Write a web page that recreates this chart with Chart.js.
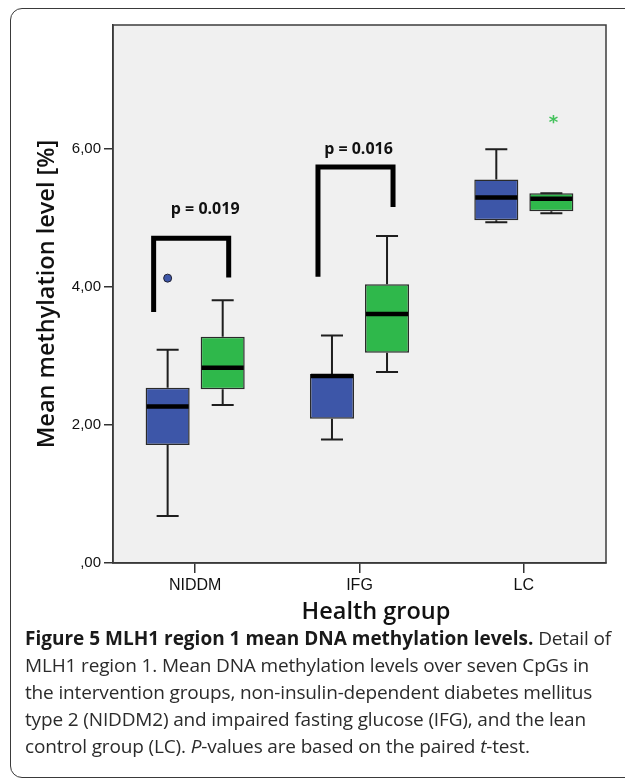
<!DOCTYPE html>
<html>
<head>
<meta charset="utf-8">
<script src="https://cdn.jsdelivr.net/npm/chart.js@4/dist/chart.umd.min.js"></script>
<style>
  html, body { margin: 0; padding: 0; background: #fff; }
  body { width: 625px; height: 780px; position: relative; overflow: hidden; }
  #frame {
    position: absolute; left: 10px; top: 8px; width: 680px; height: 768px;
    border: 1.5px solid #3a3a3a; border-radius: 12px;
  }
  #chart { position: absolute; left: 0; top: 0; }
  #xtitle {
    position: absolute; left: 376px; top: 594px; transform: translateX(-50%);
    font-family: "Open Sans", sans-serif; font-weight: 600; font-size: 23.5px;
    color: #111; white-space: nowrap;
  }
  #caption {
    position: absolute; left: 25px; top: 625px;
    font-family: "Open Sans", sans-serif; font-size: 19px; line-height: 27px;
    color: #2b2b2b; white-space: nowrap; letter-spacing: -0.15px;
  }
  #caption b { font-weight: 700; color: #1a1a1a; letter-spacing: 0; }
</style>
</head>
<body>
<div id="frame"></div>
<canvas id="chart" width="625" height="600"></canvas>
<div id="xtitle">Health group</div>
<div id="caption">
  <b>Figure 5 MLH1 region 1 mean DNA methylation levels.</b> Detail of<br>
  MLH1 region 1. Mean DNA methylation levels over seven CpGs in<br>
  the intervention groups, non-insulin-dependent diabetes mellitus<br>
  type 2 (NIDDM2) and impaired fasting glucose (IFG), and the lean<br>
  control group (LC). <i>P</i>-values are based on the paired <i>t</i>-test.
</div>
<script>
// Health groups on the x axis
const groups = ["NIDDM", "IFG", "LC"];

// Blue boxes (five-number summary per group)
const blueLow = [0.68, 1.79, 4.94];
const blueQ1 = [1.71, 2.09, 4.97];
const blueMedian = [2.27, 2.71, 5.30];
const blueQ3 = [2.54, 2.74, 5.56];
const blueHigh = [3.09, 3.30, 6.00];
const blueOutliers = [4.13, null, null];

// Green boxes
const greenLow = [2.29, 2.77, 5.07];
const greenQ1 = [2.52, 3.05, 5.10];
const greenMedian = [2.83, 3.61, 5.28];
const greenQ3 = [3.28, 4.04, 5.36];
const greenHigh = [3.81, 4.74, 5.36];
const greenExtremes = [null, null, 6.43];

// Significance brackets (NIDDM, IFG)
const pLabels = ["p = 0.019", "p = 0.016"];
const bracketLeft = [3.64, 4.15];
const bracketTop = [4.71, 5.74];
const bracketRight = [4.14, 5.16];

// Y axis ticks
const yTicks = [0, 2, 4, 6];

const BLUE = "#3d56a8";
const GREEN = "#2fb84b";

// Function to format ticks the SPSS way ("2,00", ",00")
function formatTick(v) {
    return (v === 0 ? "" : String(v)) + ",00";
}

// Plugin that draws the plot background, whiskers, medians, outliers and brackets
const boxExtras = {
    id: "boxExtras",
    beforeDraw(chart) {
        const { ctx, chartArea: a } = chart;
        ctx.save();
        ctx.fillStyle = "#f0f0f0";
        ctx.fillRect(a.left, a.top, a.right - a.left, a.bottom - a.top);
        ctx.restore();
    },
    beforeDatasetsDraw(chart) {
        const ctx = chart.ctx;
        const y = chart.scales.y;
        const sets = [
            { low: blueLow, q1: blueQ1, q3: blueQ3, high: blueHigh },
            { low: greenLow, q1: greenQ1, q3: greenQ3, high: greenHigh }
        ];
        ctx.save();
        ctx.strokeStyle = "#1e1e1e";
        ctx.lineWidth = 2;
        sets.forEach((s, i) => {
            chart.getDatasetMeta(i).data.forEach((bar, j) => {
                const cap = bar.width / 2;
                ctx.beginPath();
                ctx.moveTo(bar.x, y.getPixelForValue(s.q3[j]));
                ctx.lineTo(bar.x, y.getPixelForValue(s.high[j]));
                ctx.moveTo(bar.x, y.getPixelForValue(s.q1[j]));
                ctx.lineTo(bar.x, y.getPixelForValue(s.low[j]));
                ctx.moveTo(bar.x - cap / 2, y.getPixelForValue(s.high[j]));
                ctx.lineTo(bar.x + cap / 2, y.getPixelForValue(s.high[j]));
                ctx.moveTo(bar.x - cap / 2, y.getPixelForValue(s.low[j]));
                ctx.lineTo(bar.x + cap / 2, y.getPixelForValue(s.low[j]));
                ctx.stroke();
            });
        });
        ctx.restore();
    },
    afterDatasetsDraw(chart) {
        const { ctx, chartArea: a } = chart;
        const y = chart.scales.y;
        const blueBars = chart.getDatasetMeta(0).data;
        const greenBars = chart.getDatasetMeta(1).data;

        ctx.save();
        // medians
        ctx.strokeStyle = "#000";
        ctx.lineWidth = 4.5;
        [[blueBars, blueMedian], [greenBars, greenMedian]].forEach(([bars, med]) => {
            bars.forEach((bar, j) => {
                const py = y.getPixelForValue(med[j]);
                ctx.beginPath();
                ctx.moveTo(bar.x - bar.width / 2 + 1, py);
                ctx.lineTo(bar.x + bar.width / 2 - 1, py);
                ctx.stroke();
            });
        });

        // outliers (circle) and extremes (star)
        blueBars.forEach((bar, j) => {
            if (blueOutliers[j] === null) return;
            ctx.beginPath();
            ctx.arc(bar.x, y.getPixelForValue(blueOutliers[j]), 4, 0, Math.PI * 2);
            ctx.fillStyle = BLUE;
            ctx.fill();
            ctx.lineWidth = 1;
            ctx.strokeStyle = "#223";
            ctx.stroke();
        });
        greenBars.forEach((bar, j) => {
            if (greenExtremes[j] === null) return;
            ctx.fillStyle = "#44c25c";
            ctx.font = "bold 18px 'DejaVu Sans'";
            ctx.textAlign = "center";
            ctx.textBaseline = "middle";
            ctx.fillText("*", bar.x + 2, y.getPixelForValue(greenExtremes[j]) + 4);
        });

        // brackets with p-values
        const labelGap = [29, 18];
        const labelShift = [14, 3];
        pLabels.forEach((label, j) => {
            const xl = blueBars[j].x - 14;
            const xr = greenBars[j].x + 6;
            const yt = y.getPixelForValue(bracketTop[j]);
            ctx.beginPath();
            ctx.lineWidth = 5;
            ctx.strokeStyle = "#000";
            ctx.lineJoin = "miter";
            ctx.moveTo(xl, y.getPixelForValue(bracketLeft[j]));
            ctx.lineTo(xl, yt);
            ctx.lineTo(xr, yt);
            ctx.lineTo(xr, y.getPixelForValue(bracketRight[j]));
            ctx.stroke();
            ctx.fillStyle = "#111";
            ctx.font = "bold 16px 'Open Sans'";
            ctx.textAlign = "center";
            ctx.textBaseline = "middle";
            ctx.fillText(label, (xl + xr) / 2 + labelShift[j], yt - labelGap[j]);
        });

        // plot frame
        ctx.lineWidth = 1.5;
        ctx.strokeStyle = "#3c3c3c";
        ctx.strokeRect(a.left, a.top, a.right - a.left, a.bottom - a.top);
        ctx.restore();
    }
};

const ctx = document.getElementById("chart").getContext("2d");
new Chart(ctx, {
    type: "bar",
    data: {
        labels: groups,
        datasets: [
            {
                label: "Blue",
                data: blueQ1.map((q, i) => [q, blueQ3[i]]),
                backgroundColor: BLUE,
                borderColor: "#2a2a2a",
                borderWidth: 1.5,
                borderSkipped: false
            },
            {
                label: "Green",
                data: greenQ1.map((q, i) => [q, greenQ3[i]]),
                backgroundColor: GREEN,
                borderColor: "#2a2a2a",
                borderWidth: 1.5,
                borderSkipped: false
            }
        ]
    },
    options: {
        responsive: false,
        animation: false,
        devicePixelRatio: 1,
        categoryPercentage: 0.67,
        barPercentage: 0.8,
        layout: { padding: { top: 25, right: 19, left: 0, bottom: 0 } },
        plugins: {
            legend: { display: false },
            tooltip: { enabled: false }
        },
        scales: {
            x: {
                grid: { offset: false, drawOnChartArea: false, tickLength: 10, color: "#333", lineWidth: 1.5 },
                border: { color: "#333", width: 1.5 },
                ticks: {
                    padding: 3,
                    color: "#111",
                    font: { family: "'Liberation Sans', Arial, sans-serif", size: 16 }
                },
                afterFit: scale => { scale.height = 37; }
            },
            y: {
                min: 0,
                max: 7.8,
                grid: { drawOnChartArea: false, tickLength: 9, color: "#333", lineWidth: 1.5 },
                border: { color: "#333", width: 1.5 },
                afterBuildTicks: scale => { scale.ticks = yTicks.map(v => ({ value: v })); },
                ticks: {
                    padding: 3,
                    color: "#111",
                    font: { family: "'Liberation Sans', Arial, sans-serif", size: 15 },
                    callback: v => formatTick(v)
                },
                title: {
                    display: true,
                    text: "Mean methylation level [%]",
                    color: "#111",
                    font: { family: "'Open Sans', sans-serif", size: 23.5, weight: "600" },
                    padding: { top: 33, bottom: 0 }
                },
                afterFit: scale => { scale.width = 113; }
            }
        }
    },
    plugins: [boxExtras]
});
</script>
</body>
</html>
